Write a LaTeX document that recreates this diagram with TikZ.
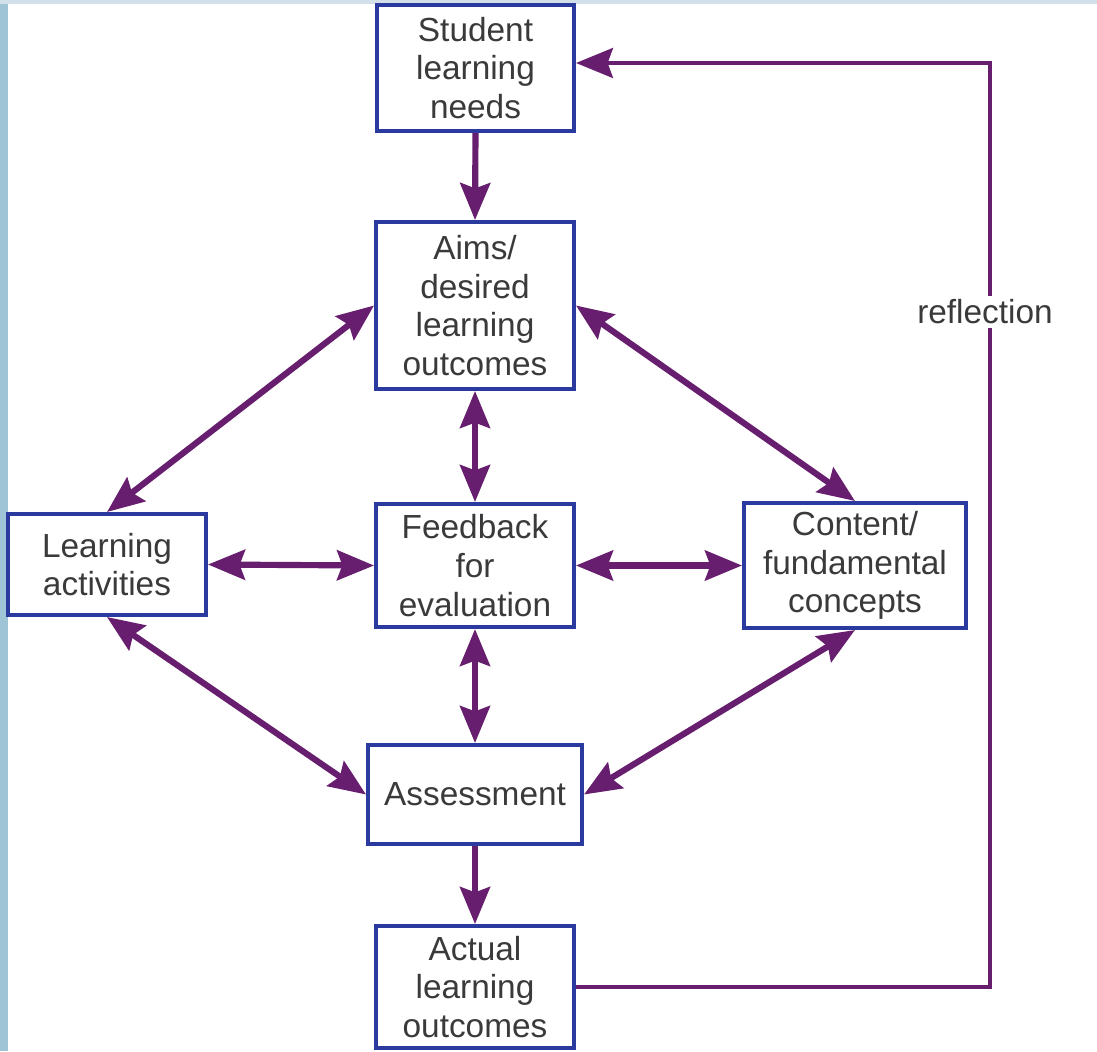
\documentclass[tikz,border=0pt]{standalone}
\usepackage{fontspec}
\setmainfont{Liberation Sans}
\usepackage{xcolor}
\usepackage{tikz}
\usetikzlibrary{arrows.meta}
\definecolor{boxblue}{RGB}{43,58,158}
\definecolor{linkpurple}{RGB}{104,30,110}
\definecolor{txtgray}{RGB}{58,58,58}
\definecolor{sidebar}{RGB}{158,196,214}
\definecolor{topbar}{RGB}{212,224,233}
\tikzset{stage/.style={draw=boxblue, line width=2.3pt, fill=white, text=txtgray, align=center, inner sep=0pt,
    font=\fontsize{19pt}{22pt}\selectfont}}
\tikzset{link/.style={draw=linkpurple, line width=3.5pt, >={Stealth[length=21pt,width=17pt,inset=3pt]}}}

\begin{document}
\begin{tikzpicture} [x=0.02cm, y=-0.02cm]
    \useasboundingbox (0,0) rectangle (1097,1051);
    \fill[white] (0,0) rectangle (1097,1051);
    \fill[sidebar] (0,0) rectangle (8,1051);
    \fill[topbar] (0,0) rectangle (1097,4);

    % boxes
    \node[stage, minimum width=3.94cm, minimum height=2.52cm] (student) at (475.5,68) {Student\\learning\\needs};
    \node[stage, minimum width=3.96cm, minimum height=3.34cm] (aims) at (475,305.5) {Aims/\\desired\\learning\\outcomes};
    \node[stage, minimum width=3.96cm, minimum height=2.02cm] (activities) at (107,564.5) {Learning\\activities};
    \node[stage, minimum width=3.96cm, minimum height=2.46cm] (feedback) at (475,565.5) {Feedback\\for\\evaluation};
    \node[stage, minimum width=4.44cm, minimum height=2.50cm] (content) at (855,565.5) {Content/\\fundamental\\concepts};
    \node[stage, minimum width=4.28cm, minimum height=1.98cm] (assess) at (475,794.5) {Assessment};
    \node[stage, minimum width=3.96cm, minimum height=2.44cm] (actual) at (475,987) {Actual\\learning\\outcomes};

    % connectors
    \draw[link,->] (student.south) -- (aims.north);
    \draw[link,->] (assess.south -| actual.north) -- (actual.north);
    \foreach \a/\b in {aims.west/activities.north, aims.east/content.north, aims.south/feedback.north,
        feedback.west/activities.east, feedback.east/content.west, feedback.south/assess.north,
        activities.south/assess.west, content.south/assess.east} {
      \draw[link,<->] (\a) -- (\b);
    }

    % reflection loop
    \coordinate (turn) at (990,987);
    \draw[link, line width=2.3pt, ->] (actual.east) -- (turn) |- ([yshift=0.1cm]student.east);
    \node[fill=white, text=txtgray, inner sep=2pt, font=\fontsize{19pt}{22pt}\selectfont] (refl) at (985,312) {reflection};
\end{tikzpicture}
\end{document}
